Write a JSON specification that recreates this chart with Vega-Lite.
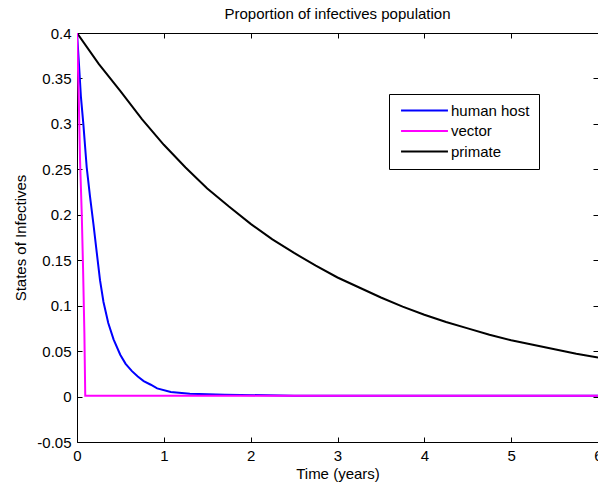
{
  "$schema": "https://vega.github.io/schema/vega-lite/v6.json",
  "width": 521,
  "height": 409,
  "autosize": {"type": "none"},
  "padding": {"left": 77, "top": 33, "right": 0, "bottom": 49},
  "background": "white",
  "title": {"text": "Proportion of infectives population", "font": "Liberation Sans", "fontSize": 15, "fontWeight": "normal", "color": "black", "anchor": "middle", "offset": 4},
  "config": {
    "view": {"stroke": "black", "strokeWidth": 1},
    "axis": {"grid": false, "domain": false, "offset": -5, "tickSize": 5, "tickWidth": 1, "tickColor": "black", "labelColor": "black", "titleColor": "black", "labelFont": "Liberation Sans", "titleFont": "Liberation Sans", "labelFontSize": 15, "titleFontSize": 15, "titleFontWeight": "normal", "labelFlush": false, "labelPadding": 6}
  },
  "data": {"values": [
    {"t": 0, "v": 0.4, "s": "primate"},
    {"t": 0.25, "v": 0.366, "s": "primate"},
    {"t": 0.5, "v": 0.336, "s": "primate"},
    {"t": 0.75, "v": 0.305, "s": "primate"},
    {"t": 1, "v": 0.277, "s": "primate"},
    {"t": 1.25, "v": 0.252, "s": "primate"},
    {"t": 1.5, "v": 0.229, "s": "primate"},
    {"t": 1.75, "v": 0.209, "s": "primate"},
    {"t": 2, "v": 0.19, "s": "primate"},
    {"t": 2.25, "v": 0.173, "s": "primate"},
    {"t": 2.5, "v": 0.158, "s": "primate"},
    {"t": 2.75, "v": 0.144, "s": "primate"},
    {"t": 3, "v": 0.131, "s": "primate"},
    {"t": 3.25, "v": 0.12, "s": "primate"},
    {"t": 3.5, "v": 0.109, "s": "primate"},
    {"t": 3.75, "v": 0.099, "s": "primate"},
    {"t": 4, "v": 0.09, "s": "primate"},
    {"t": 4.25, "v": 0.082, "s": "primate"},
    {"t": 4.5, "v": 0.075, "s": "primate"},
    {"t": 4.75, "v": 0.068, "s": "primate"},
    {"t": 5, "v": 0.062, "s": "primate"},
    {"t": 5.25, "v": 0.057, "s": "primate"},
    {"t": 5.5, "v": 0.052, "s": "primate"},
    {"t": 5.75, "v": 0.047, "s": "primate"},
    {"t": 6, "v": 0.043, "s": "primate"},
    {"t": 0, "v": 0.4, "s": "human host"},
    {"t": 0.02, "v": 0.37, "s": "human host"},
    {"t": 0.045, "v": 0.33, "s": "human host"},
    {"t": 0.073, "v": 0.3, "s": "human host"},
    {"t": 0.112, "v": 0.252, "s": "human host"},
    {"t": 0.15, "v": 0.22, "s": "human host"},
    {"t": 0.189, "v": 0.19, "s": "human host"},
    {"t": 0.228, "v": 0.158, "s": "human host"},
    {"t": 0.265, "v": 0.128, "s": "human host"},
    {"t": 0.305, "v": 0.104, "s": "human host"},
    {"t": 0.36, "v": 0.081, "s": "human host"},
    {"t": 0.421, "v": 0.063, "s": "human host"},
    {"t": 0.498, "v": 0.046, "s": "human host"},
    {"t": 0.56, "v": 0.036, "s": "human host"},
    {"t": 0.633, "v": 0.028, "s": "human host"},
    {"t": 0.7, "v": 0.022, "s": "human host"},
    {"t": 0.768, "v": 0.017, "s": "human host"},
    {"t": 0.85, "v": 0.013, "s": "human host"},
    {"t": 0.923, "v": 0.009, "s": "human host"},
    {"t": 1.08, "v": 0.005, "s": "human host"},
    {"t": 1.3, "v": 0.003, "s": "human host"},
    {"t": 1.7, "v": 0.002, "s": "human host"},
    {"t": 2.5, "v": 0.001, "s": "human host"},
    {"t": 6, "v": 0.001, "s": "human host"},
    {"t": 0, "v": 0.4, "s": "vector"},
    {"t": 0.02, "v": 0.33, "s": "vector"},
    {"t": 0.035, "v": 0.26, "s": "vector"},
    {"t": 0.055, "v": 0.2, "s": "vector"},
    {"t": 0.07, "v": 0.14, "s": "vector"},
    {"t": 0.085, "v": 0.07, "s": "vector"},
    {"t": 0.095, "v": 0.001, "s": "vector"},
    {"t": 6, "v": 0.001, "s": "vector"}
  ]},
  "resolve": {"axis": {"x": "independent", "y": "independent"}},
  "layer": [
    {
      "mark": {"type": "line", "strokeWidth": 2, "clip": true},
      "encoding": {
        "x": {"field": "t", "type": "quantitative", "scale": {"domain": [0, 6], "nice": false, "zero": false},
              "axis": {"values": [0, 1, 2, 3, 4, 5, 6], "title": "Time (years)", "titlePadding": 3}},
        "y": {"field": "v", "type": "quantitative", "scale": {"domain": [-0.05, 0.4], "nice": false, "zero": false},
              "axis": {"values": [-0.05, 0, 0.05, 0.1, 0.15, 0.2, 0.25, 0.3, 0.35, 0.4], "title": "States of Infectives", "titlePadding": 8,
                       "labelExpr": "replace(format(datum.value, '.2~f'), '−', '-')"}},
        "color": {"field": "s", "type": "nominal",
                  "scale": {"domain": ["human host", "vector", "primate"], "range": ["#0000ff", "#ff00ff", "#000000"]},
                  "legend": {"title": null, "orient": "none", "legendX": 312, "legendY": 61, "direction": "vertical",
                             "symbolType": "M-5,0H5", "symbolSize": 88, "symbolStrokeWidth": 2, "symbolOffset": 19,
                             "labelFont": "Liberation Sans", "labelFontSize": 15, "labelColor": "black", "labelOffset": 19,
                             "strokeColor": "black", "fillColor": "white", "padding": 9, "rowPadding": 4.5, "cornerRadius": 0}}
      }
    },
    {
      "mark": {"type": "line", "opacity": 0},
      "encoding": {
        "x": {"field": "t", "type": "quantitative", "scale": {"domain": [0, 6], "nice": false, "zero": false},
              "axis": {"orient": "top", "values": [0, 1, 2, 3, 4, 5, 6], "labels": false, "title": null}},
        "y": {"field": "v", "type": "quantitative", "scale": {"domain": [-0.05, 0.4], "nice": false, "zero": false},
              "axis": {"orient": "right", "values": [-0.05, 0, 0.05, 0.1, 0.15, 0.2, 0.25, 0.3, 0.35, 0.4], "labels": false, "title": null}}
      }
    }
  ]
}
